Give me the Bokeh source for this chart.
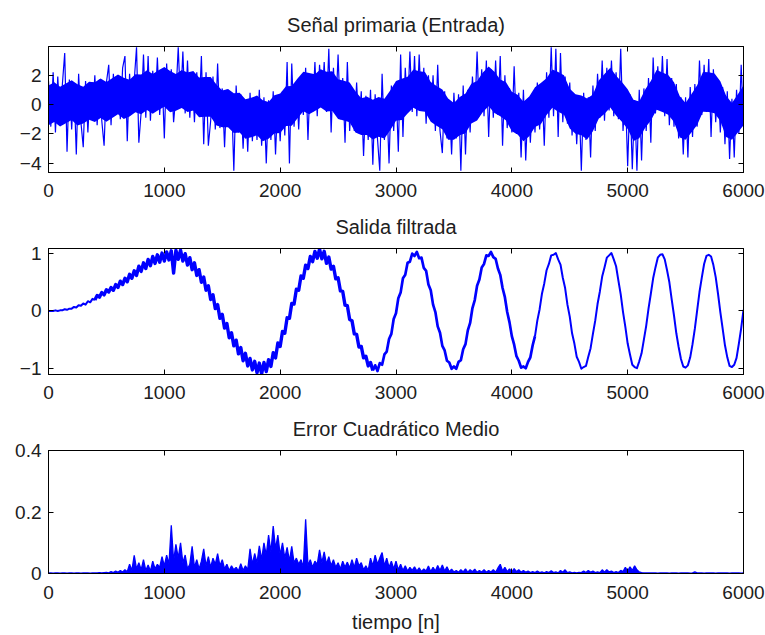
from bokeh.plotting import figure
from bokeh.layouts import column
from bokeh.models import (LinearAxis, FixedTicker, NumeralTickFormatter, Range1d,
                          CustomJSTickFormatter)
from bokeh.embed import file_html
from bokeh.resources import INLINE

# índice de tiempo n (muestras cada 20)
muestras = list(range(0, 6001, 20))

# Señal primaria (Entrada): trazo con los picos de ruido
entrada = [
    1.6, -1.5, 2.2, -1.9, 1.9, -1.1, 1.4, 3.5, -3.2, 1.7,
    -1.7, 1.4, -3.4, 2.1, -1.2, -2.9, 1.6, -1.9, 1.2, -1.0,
    2.0, -1.4, 1.7, -1.1, -2.8, 1.5, 2.7, -1.4, 2.1, -0.6,
    1.7, -1.0, 2.5, 3.3, -2.5, 2.1, -0.5, 1.6, 3.9, -2.6,
    -0.5, 3.4, -0.9, 3.3, -1.1, 2.3, -0.3, 3.2, -0.7, 2.0,
    -2.3, 2.8, -0.4, 2.4, -1.2, 0.6, 3.9, 0.0, 3.6, -0.6,
    3.0, -0.9, 2.1, -1.2, 2.2, -0.6, 3.3, -2.7, 2.2, -2.8,
    -1.1, 1.9, -1.7, 2.8, -1.6, 1.1, -2.9, 1.0, -1.4, 0.6,
    -4.5, 1.3, -1.9, 0.7, -3.0, 0.3, -3.2, 0.8, -2.5, 0.4,
    -2.4, 1.0, -2.8, 0.5, -4.0, 0.3, -2.4, 0.9, -3.4, 0.5,
    -2.5, 0.9, -2.1, 2.9, -4.0, 2.8, -1.5, 1.5, -1.7, 1.9,
    -0.7, 2.5, -2.4, 1.9, -0.5, 2.9, -0.8, 2.7, 0.0, 2.9,
    -0.5, 3.8, -1.9, 2.5, -0.5, 3.4, -1.0, 1.8, -2.6, 2.9,
    -1.8, 1.1, -1.8, 1.5, -1.7, 0.9, -3.5, 0.6, -2.4, 1.0,
    -4.1, 0.7, -2.3, -4.5, 2.1, -2.4, 0.4, -4.0, 1.3, -1.8,
    1.3, -3.2, 3.4, -2.2, 2.5, -0.4, 3.6, -0.5, 3.3, -0.8,
    3.4, -0.4, 2.5, -1.3, 2.0, -0.8, 2.0, -1.8, 2.7, -1.8,
    -3.3, 0.9, -2.3, 0.3, -3.4, 0.8, -2.3, 0.7, -4.5, 1.3,
    -3.4, 1.0, -1.9, 1.9, -0.9, 3.6, -0.8, 2.4, -0.8, 3.0,
    -2.2, 2.4, -0.9, 3.0, -0.7, 3.3, -2.8, 2.0, -1.6, 1.1,
    -1.9, 2.6, -2.0, 0.8, -3.6, 1.0, -3.8, 0.2, -2.6, 0.7,
    -1.9, 1.5, -1.7, 1.4, -2.8, 2.2, -0.9, 3.9, -0.8, 3.8,
    -2.2, 3.5, -1.2, 1.9, -1.3, 1.5, -2.1, 0.7, -2.7, 0.5,
    -4.5, 0.8, -2.4, 0.5, -3.6, 1.3, -1.8, 2.1, -0.9, 3.0,
    -1.1, 2.5, -0.4, 3.0, -0.8, 2.2, -1.0, 3.8, -1.8, 0.9,
    -4.2, 0.7, -4.4, 0.3, -4.5, 1.0, -3.8, 1.1, -1.8, 1.8,
    -2.6, 3.2, -0.6, 2.6, -0.2, 3.3, -0.8, 3.1, -1.4, 1.8,
    -1.5, 1.4, -2.3, 0.5, -3.4, 0.5, -3.6, 1.2, -2.2, 1.4,
    -1.5, 3.0, -0.7, 2.7, -0.5, 3.1, -2.2, 2.4, -1.2, 1.5,
    -1.9, 1.2, -2.7, 0.9, -3.7, 0.4, -3.6, 1.0, -2.0, 2.7,
    -1.5,
]

# Señal primaria: núcleo denso del ruido (bordes superior e inferior, cada 50)
muestras_nucleo = list(range(0, 6001, 50))
nucleo_sup = [
    1.30, 1.51, 1.21, 1.43, 1.65, 1.38, 1.22, 1.56, 1.52, 1.78,
    1.53, 1.79, 2.04, 1.82, 1.69, 2.07, 2.05, 2.33, 2.08, 2.33,
    2.55, 2.28, 2.08, 2.36, 2.19, 2.29, 1.84, 1.87, 1.88, 1.37,
    0.96, 1.06, 0.77, 0.80, 0.37, 0.47, 0.61, 0.30, 0.17, 0.63,
    0.76, 1.25, 1.26, 1.77, 2.24, 2.14, 2.07, 2.40, 2.23, 2.26,
    1.72, 1.62, 1.50, 0.90, 0.43, 0.53, 0.32, 0.52, 0.40, 0.95,
    1.60, 1.75, 1.90, 2.38, 2.26, 2.22, 1.53, 1.26, 1.02, 0.41,
    0.10, 0.52, 0.75, 1.42, 1.61, 2.19, 2.59, 2.23, 1.71, 1.51,
    0.88, 0.67, 0.20, 0.55, 1.18, 1.47, 1.79, 2.38, 2.22, 2.00,
    1.08, 0.71, 0.61, 0.42, 0.68, 1.63, 2.08, 2.50, 1.96, 1.54,
    1.04, 0.33, 0.21, 1.01, 1.61, 2.35, 2.19, 2.01, 1.51, 0.56,
    0.10, 0.70, 1.31, 2.21, 2.20, 2.11, 1.59, 0.60, 0.10, 0.68,
    1.30,
]
nucleo_inf = [
    -1.40, -1.19, -1.49, -1.27, -1.05, -1.42, -1.28, -1.04, -1.18, -0.92,
    -1.17, -0.91, -0.66, -0.98, -0.81, -0.53, -0.65, -0.37, -0.62, -0.37,
    -0.15, -0.52, -0.42, -0.24, -0.51, -0.41, -0.86, -0.83, -0.82, -1.43,
    -1.54, -1.54, -1.93, -1.90, -2.33, -2.23, -2.09, -2.50, -2.33, -1.97,
    -1.94, -1.45, -1.44, -0.93, -0.46, -0.66, -0.43, -0.20, -0.47, -0.44,
    -0.98, -1.08, -1.20, -1.90, -2.07, -2.07, -2.38, -2.18, -2.30, -1.75,
    -1.10, -1.05, -0.60, -0.22, -0.44, -0.48, -1.17, -1.44, -1.68, -2.39,
    -2.40, -2.08, -1.95, -1.28, -1.09, -0.51, -0.11, -0.57, -0.79, -1.09,
    -1.82, -2.03, -2.50, -2.15, -1.52, -1.33, -0.71, -0.22, -0.48, -0.70,
    -1.62, -1.99, -2.09, -2.38, -1.82, -0.97, -0.62, -0.20, -0.74, -1.16,
    -1.66, -2.47, -2.29, -1.59, -1.09, -0.35, -0.51, -0.69, -1.19, -2.24,
    -2.40, -1.90, -1.39, -0.49, -0.50, -0.59, -1.11, -2.20, -2.40, -1.92,
    -1.40,
]

# Salida filtrada
salida = [
    0.00, 0.00, 0.00, 0.01, 0.00, 0.01, 0.01, 0.03, 0.02, 0.04,
    0.04, 0.07, 0.06, 0.10, 0.09, 0.13, 0.11, 0.17, 0.15, 0.21,
    0.19, 0.27, 0.24, 0.32, 0.28, 0.37, 0.33, 0.41, 0.36, 0.46,
    0.41, 0.52, 0.46, 0.57, 0.51, 0.64, 0.57, 0.70, 0.62, 0.78,
    0.69, 0.84, 0.74, 0.90, 0.79, 0.95, 0.83, 0.98, 0.85, 1.01,
    0.87, 1.03, 0.89, 1.05, 0.66, 1.06, 0.90, 1.06, 0.87, 1.00,
    0.80, 0.93, 0.72, 0.84, 0.62, 0.72, 0.50, 0.59, 0.36, 0.44,
    0.20, 0.28, 0.04, 0.11, -0.13, -0.06, -0.30, -0.22, -0.47, -0.38,
    -0.61, -0.51, -0.75, -0.64, -0.87, -0.74, -0.96, -0.83, -1.03, -0.88,
    -1.08, -0.91, -1.10, -0.90, -1.06, -0.85, -0.97, -0.73, -0.82, -0.56,
    -0.62, -0.36, -0.39, -0.12, -0.13, 0.13, 0.12, 0.38, 0.36, 0.61,
    0.57, 0.80, 0.74, 0.95, 0.86, 1.04, 0.92, 1.08, 0.91, 1.04,
    0.83, 0.94, 0.73, 0.78, 0.56, 0.58, 0.35, 0.34, 0.10, 0.09,
    -0.15, -0.17, -0.40, -0.41, -0.63, -0.62, -0.82, -0.79, -0.96, -0.90,
    -1.04, -0.95, -1.05, -0.91, -0.94, -0.76, -0.71, -0.49, -0.40, -0.14,
    -0.04, 0.22, 0.32, 0.57, 0.63, 0.84, 0.86, 1.00, 0.96, 1.03,
    0.92, 0.93, 0.75, 0.70, 0.46, 0.36, 0.11, -0.02, -0.27, -0.38,
    -0.61, -0.69, -0.87, -0.90, -1.01, -0.97, -1.01, -0.89, -0.86, -0.67,
    -0.58, -0.34, -0.21, 0.05, 0.19, 0.44, 0.55, 0.76, 0.82, 0.97,
    0.96, 1.03, 0.94, 0.91, 0.74, 0.63, 0.40, 0.24, -0.02, -0.20,
    -0.44, -0.59, -0.79, -0.87, -0.99, -0.97, -1.00, -0.89, -0.81, -0.60,
    -0.44, -0.17, 0.03, 0.30, 0.48, 0.71, 0.82, 0.97, 0.98, 1.01,
    0.90, 0.81, 0.58, 0.40, 0.11, -0.10, -0.39, -0.57, -0.80, -0.89,
    -1.01, -0.98, -0.96, -0.80, -0.65, -0.40, -0.17, 0.12, 0.34, 0.60,
    0.76, 0.93, 0.97, 1.01, 0.90, 0.78, 0.53, 0.29, -0.02, -0.28,
    -0.57, -0.76, -0.94, -0.98, -1.00, -0.88, -0.74, -0.50, -0.26, 0.04,
    0.30, 0.57, 0.76, 0.93, 0.98, 0.99, 0.90, 0.71, 0.50, 0.20,
    -0.08, -0.39, -0.63, -0.84, -0.97, -0.99, -0.95, -0.81, -0.58, -0.31,
    0.01, 0.33, 0.58, 0.82, 0.96, 0.98, 0.95, 0.80, 0.59, 0.30,
    -0.02, -0.31, -0.60, -0.81, -0.96, -0.98, -0.94, -0.82, -0.57, -0.30,
    0.02,
]

# Error Cuadrático Medio
ecm = [
    0.002, 0.002, 0.001, 0.002, 0.002, 0.001, 0.002, 0.002, 0.001, 0.002,
    0.002, 0.001, 0.002, 0.002, 0.001, 0.002, 0.002, 0.002, 0.001, 0.002,
    0.002, 0.002, 0.003, 0.002, 0.003, 0.004, 0.002, 0.006, 0.003, 0.008,
    0.004, 0.010, 0.005, 0.012, 0.006, 0.030, 0.010, 0.059, 0.015, 0.035,
    0.012, 0.045, 0.010, 0.028, 0.008, 0.040, 0.015, 0.030, 0.020, 0.055,
    0.025, 0.060, 0.030, 0.157, 0.040, 0.095, 0.050, 0.100, 0.035, 0.060,
    0.015, 0.030, 0.088, 0.020, 0.045, 0.015, 0.040, 0.080, 0.025, 0.055,
    0.020, 0.050, 0.030, 0.065, 0.025, 0.045, 0.015, 0.030, 0.010, 0.025,
    0.012, 0.020, 0.008, 0.032, 0.010, 0.025, 0.012, 0.080, 0.030, 0.065,
    0.035, 0.090, 0.045, 0.100, 0.060, 0.125, 0.070, 0.154, 0.080, 0.125,
    0.060, 0.100, 0.050, 0.085, 0.040, 0.088, 0.035, 0.050, 0.030, 0.045,
    0.020, 0.176, 0.025, 0.045, 0.020, 0.040, 0.030, 0.077, 0.035, 0.070,
    0.030, 0.055, 0.025, 0.045, 0.020, 0.035, 0.015, 0.040, 0.020, 0.037,
    0.018, 0.045, 0.020, 0.050, 0.025, 0.035, 0.012, 0.025, 0.010, 0.050,
    0.025, 0.060, 0.030, 0.050, 0.068, 0.025, 0.050, 0.020, 0.040, 0.015,
    0.040, 0.012, 0.030, 0.010, 0.025, 0.008, 0.020, 0.010, 0.022, 0.008,
    0.018, 0.006, 0.015, 0.008, 0.024, 0.006, 0.020, 0.008, 0.026, 0.010,
    0.028, 0.008, 0.022, 0.006, 0.014, 0.005, 0.010, 0.004, 0.012, 0.005,
    0.015, 0.004, 0.012, 0.006, 0.014, 0.004, 0.010, 0.005, 0.012, 0.004,
    0.010, 0.005, 0.012, 0.004, 0.018, 0.030, 0.008, 0.020, 0.006, 0.015,
    0.005, 0.016, 0.006, 0.012, 0.004, 0.010, 0.004, 0.008, 0.003, 0.006,
    0.003, 0.008, 0.003, 0.005, 0.002, 0.006, 0.003, 0.009, 0.003, 0.005,
    0.002, 0.010, 0.004, 0.012, 0.003, 0.005, 0.002, 0.004, 0.002, 0.004,
    0.003, 0.008, 0.003, 0.010, 0.004, 0.008, 0.003, 0.005, 0.003, 0.012,
    0.004, 0.012, 0.005, 0.008, 0.003, 0.006, 0.003, 0.010, 0.006, 0.020,
    0.008, 0.022, 0.010, 0.025, 0.012, 0.005, 0.003, 0.002, 0.002, 0.002,
    0.002, 0.002, 0.002, 0.001, 0.002, 0.002, 0.002, 0.002, 0.001, 0.002,
    0.002, 0.002, 0.001, 0.002, 0.002, 0.002, 0.002, 0.001, 0.002, 0.005,
    0.002, 0.002, 0.002, 0.001, 0.002, 0.002, 0.002, 0.002, 0.001, 0.002,
    0.002, 0.002, 0.002, 0.002, 0.001, 0.002, 0.002, 0.002, 0.002, 0.001,
    0.002,
]

ticks_x = [0, 1000, 2000, 3000, 4000, 5000, 6000]
ticks_entrada = [-4, -2, 0, 2]
ticks_salida = [-1, 0, 1]
ticks_ecm = [0, 0.2, 0.4]

FUENTE = "Liberation Sans"
AZUL = "#0000ff"
TEXTO = "#202020"


def estilo_eje(ax, ticks, etiquetas=True, separacion=10):
    ax.ticker = FixedTicker(ticks=ticks)
    ax.major_tick_in = 5
    ax.major_tick_out = 0
    ax.minor_tick_line_color = None
    ax.axis_line_color = "black"
    ax.major_tick_line_color = "black"
    ax.major_label_text_font = FUENTE
    ax.major_label_text_color = TEXTO
    if etiquetas:
        ax.major_label_text_font_size = "19px"
        ax.major_label_standoff = separacion
    else:
        ax.formatter = CustomJSTickFormatter(code="return ''")
        ax.major_label_text_font_size = "0px"
        ax.major_label_standoff = 0


def panel(titulo, rango_y, ticks_y, alto, borde_sup, borde_inf, sep_x, sep_titulo):
    p = figure(width=765, height=alto, x_range=Range1d(0, 6000),
               y_range=Range1d(*rango_y), output_backend="svg",
               toolbar_location=None, tools="",
               min_border_left=48, min_border_right=22,
               min_border_top=borde_sup, min_border_bottom=borde_inf)
    p.xgrid.visible = False
    p.ygrid.visible = False
    p.outline_line_color = "black"
    p.outline_line_alpha = 1.0
    p.background_fill_color = "white"
    p.border_fill_color = "white"
    estilo_eje(p.below[0], ticks_x, separacion=sep_x)
    estilo_eje(p.left[0], ticks_y, separacion=7)
    arriba = LinearAxis()
    estilo_eje(arriba, ticks_x, etiquetas=False)
    p.add_layout(arriba, "above")
    derecha = LinearAxis()
    estilo_eje(derecha, ticks_y, etiquetas=False)
    p.add_layout(derecha, "right")
    p.title.text = titulo
    p.title.align = "center"
    p.title.text_font = FUENTE
    p.title.text_font_size = "20px"
    p.title.text_font_style = "normal"
    p.title.text_color = TEXTO
    p.title.standoff = sep_titulo
    return p


p1 = panel("Señal primaria (Entrada)", (-4.62, 3.95), ticks_entrada,
           203, 44, 31, 11, 22)
p1.varea(x=muestras_nucleo, y1=nucleo_inf, y2=nucleo_sup, fill_color=AZUL)
p1.line(muestras, entrada, line_color=AZUL, line_width=1.2)

p2 = panel("Salida filtrada", (-1.11, 1.09), ticks_salida,
           202, 43, 31, 11, 21)
# el ruido de la salida se estrecha con el tiempo: trazo más grueso al principio
tramos = [(0, 21, 2.0), (20, 141, 3.4), (140, 211, 2.7), (210, 301, 2.0)]
for ini, fin, grosor in tramos:
    p2.line(muestras[ini:fin], salida[ini:fin], line_color=AZUL,
            line_width=grosor, line_join="round")

p3 = panel("Error Cuadrático Medio", (0, 0.4), ticks_ecm,
           230, 43, 61, 12, 21)
p3.left[0].formatter = NumeralTickFormatter(format="0.[0]")
p3.varea(x=muestras, y1=0, y2=ecm, fill_color=AZUL)
p3.line(muestras, ecm, line_color=AZUL, line_width=1.3)
p3.below[0].axis_label = "tiempo [n]"
p3.below[0].axis_label_text_font = FUENTE
p3.below[0].axis_label_text_font_size = "20px"
p3.below[0].axis_label_text_font_style = "normal"
p3.below[0].axis_label_text_color = TEXTO
p3.below[0].axis_label_standoff = 9

layout = column(p1, p2, p3)
open("out.html", "w").write(file_html(layout, INLINE))
